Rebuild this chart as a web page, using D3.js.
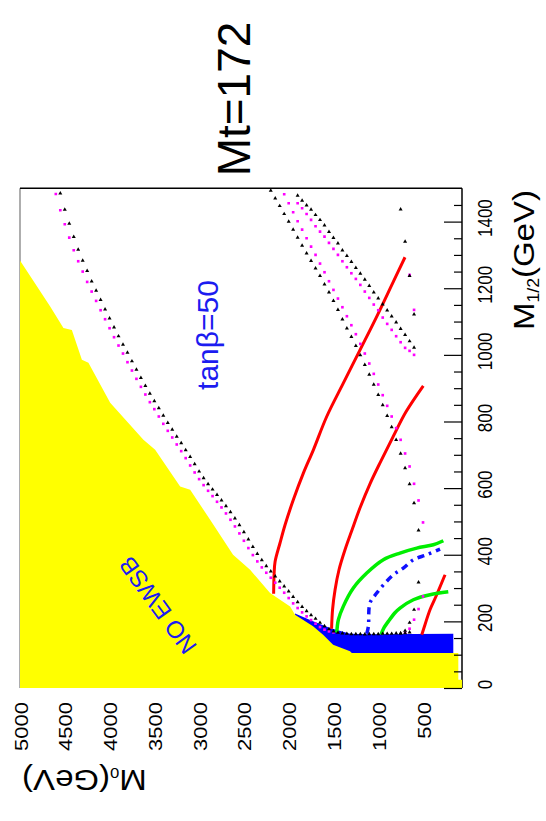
<!DOCTYPE html>
<html>
<head>
<meta charset="utf-8">
<script src="https://cdn.jsdelivr.net/npm/d3@7"></script>
<style>
  body { margin: 0; background: #fff; }
  svg { display: block; }
  text { font-family: "Liberation Sans", Arial, Helvetica, sans-serif; }
</style>
</head>
<body>
<svg id="chart" width="546" height="821"></svg>
<script>
// ---- tick values ----
const m12MajorTicks = [0, 200, 400, 600, 800, 1000, 1200, 1400];
const m0Ticks = [500, 1000, 1500, 2000, 2500, 3000, 3500, 4000, 4500, 5000];

// ---- excluded regions, [M0, M1/2] in GeV ----
// no electroweak symmetry breaking (upper-left) plus the low-M1/2 strip
const noEwsbEdge = [
  [5000,1283],[4663,1145],[4515,1081],[4421,1075],[4309,985],[4236,976],[3993,856],
  [3622,745],[3491,715],[3212,605],[3100,595],[2877,505],[2621,400],[2431,355],
  [2208,285],[1984,245],[1929,220],[1728,185],[1616,160],[1504,130],[1315,110],
  [1296,105],[106,105],[106,25],[65,25],[65,0]
];
// charged LSP wedge
const lspEdge = [
  [1929,224],[1728,200],[1538,180],[1315,163],[1092,161],[600,162],[162,163],
  [162,105],[1296,105],[1929,150]
];

// ---- solid contours ----
const redLong = [[2168,283],[2163,340],[2152,379],[2096,436],[2040,490],[1948,565],
  [1836,645],[1724,715],[1575,815],[1390,915],[1203,1015],[1017,1115],[831,1220],[701,1293]];
const redMid = [[1521,178],[1510,235],[1482,295],[1438,355],[1371,415],[1292,475],
  [1203,541],[1092,613],[969,682],[835,754],[690,829],[497,907]];
const redShort = [[514,160],[478,190],[422,235],[347,280],[254,340]];
const greenUpper = [[1463,166],[1445,205],[1390,245],[1278,300],[1128,345],[943,385],
  [757,405],[570,420],[385,430],[273,442]];
const greenLower = [[969,160],[935,181],[887,200],[813,226],[757,240],[608,265],
  [422,280],[218,289]];
const blueDashDot = [[1128,163],[1110,185],[1092,255],[1017,285],[924,315],[831,340],
  [720,360],[608,385],[459,400],[310,417]];

// ---- dotted contours (one dot per scan point) ----
const blackDotsA = [[4550,1485],[4500,1436],[4450,1394],[4400,1354],[4350,1316],[4300,1283],
  [4250,1252],[4200,1221],[4150,1193],[4100,1165],[4050,1137],[4000,1110],[3950,1083],
  [3900,1056],[3850,1031],[3800,1007],[3750,981],[3700,956],[3650,931],[3600,907],
  [3550,884],[3500,861],[3450,840],[3400,818],[3350,796],[3300,776],[3250,755],[3200,735],
  [3150,714],[3100,694],[3050,672],[3000,650],[2950,630],[2900,612],[2850,596],[2800,580],
  [2750,563],[2700,546],[2650,528],[2600,509],[2550,489],[2500,468],[2450,446],[2400,424],
  [2350,403],[2300,384],[2250,366],[2200,350],[2150,335],[2100,320],[2050,305],[2000,290],
  [1950,274],[1900,258],[1850,244],[1800,231],[1750,219],[1700,208],[1650,196],[1600,186],
  [1550,177],[1500,170],[1450,166],[1400,164],[1350,163],[1300,162],[1250,162],[1200,162],
  [1150,161],[1100,162],[1050,162],[1000,162],[950,163],[900,163],[850,163],[800,164],
  [750,164],[700,165],[650,167]];
const magentaDotsA = [[4600,1483],[4550,1434],[4500,1392],[4450,1352],[4400,1314],[4350,1281],
  [4300,1250],[4250,1219],[4200,1190],[4150,1162],[4100,1134],[4050,1107],[4000,1080],
  [3950,1053],[3900,1028],[3850,1004],[3800,978],[3750,953],[3700,928],[3650,904],
  [3600,881],[3550,858],[3500,837],[3450,815],[3400,793],[3350,772],[3300,752],[3250,731],
  [3200,711],[3150,690],[3100,668],[3050,647],[3000,627],[2950,609],[2900,592],[2850,576],
  [2800,559],[2750,542],[2700,524],[2650,505],[2600,485],[2550,464],[2500,442],[2450,420],
  [2400,399],[2350,380],[2300,362],[2250,346],[2200,331],[2150,316],[2100,301],[2050,286],
  [2000,270],[1950,254],[1900,240],[1850,227],[1800,215],[1750,204],[1700,193],[1650,183],
  [1600,175],[1550,170],[1500,167]];
const blackDotsB = [[2200,1493],[2150,1470],[2100,1447],[2050,1423],[2000,1400],[1950,1376],
  [1900,1352],[1850,1328],[1800,1305],[1750,1282],[1700,1260],[1650,1237],[1600,1212],
  [1550,1188],[1500,1162],[1450,1135],[1400,1107],[1350,1080],[1300,1054],[1250,1027],
  [1200,999],[1150,970],[1100,941],[1050,911],[1000,880],[950,849],[900,817],[850,783],
  [800,745],[750,704],[700,660],[650,612],[600,555],[550,473],[550,317],[600,235],
  [650,196],[700,172],[750,164]];
const magentaDotsB = [[2050,1482],[2000,1455],[1950,1428],[1900,1401],[1850,1376],[1800,1350],
  [1750,1325],[1700,1300],[1650,1274],[1600,1248],[1550,1221],[1500,1195],[1450,1169],
  [1400,1143],[1350,1116],[1300,1089],[1250,1062],[1200,1033],[1150,1004],[1100,974],
  [1050,943],[1000,911],[950,879],[900,847],[850,815],[800,780],[750,745],[700,704],
  [650,665],[600,613],[550,563],[500,497],[500,275],[550,237],[600,205],[650,178],[700,166]];
const blackDotsC = [[1900,1478],[1850,1463],[1800,1449],[1750,1436],[1700,1420],[1650,1405],
  [1600,1389],[1550,1369],[1500,1351],[1450,1335],[1400,1314],[1350,1297],[1300,1279],
  [1250,1261],[1200,1244],[1150,1226],[1100,1207],[1050,1188],[1000,1170],[950,1152],
  [900,1134],[850,1116],[800,1098],[750,1078],[700,1060],[650,1041],[600,1022],
  [600,1122],[650,1237],[700,1340],[750,1437]];
const magentaDotsC = [[1900,1455],[1850,1440],[1800,1423],[1750,1405],[1700,1386],[1650,1370],
  [1600,1355],[1550,1336],[1500,1318],[1450,1300],[1400,1281],[1350,1263],[1300,1245],
  [1250,1228],[1200,1210],[1150,1190],[1100,1171],[1050,1151],[1000,1134],[950,1112],
  [900,1093],[850,1075],[800,1056],[750,1038],[700,1021],[650,1012],[600,1000],
  [600,1135],[650,1240]];

// ---- drawing ----
const svg = d3.select("#chart");
const FONT = '"Liberation Sans", Arial, Helvetica, sans-serif';

// the plane is drawn turned a quarter turn: M0 runs right-to-left, M1/2 bottom-to-top
const x = d3.scaleLinear().domain([0, 5000]).range([467.8, 20]);
const y = d3.scaleLinear().domain([0, 1500]).range([688, 188.3]);
const frameL = 20, frameR = 462, frameT = y(1500), frameB = y(0);

svg.append("defs").append("clipPath").attr("id", "plot")
  .append("rect").attr("x", frameL).attr("y", frameT)
  .attr("width", frameR - frameL).attr("height", frameB - frameT);

// frame
svg.append("line").attr("x1", frameL).attr("x2", frameL).attr("y1", frameT).attr("y2", frameB)
  .attr("stroke", "#777").attr("stroke-width", 1.2);
svg.append("line").attr("x1", frameL).attr("x2", frameR).attr("y1", frameT).attr("y2", frameT)
  .attr("stroke", "#000").attr("stroke-width", 1.5);
svg.append("line").attr("x1", frameR).attr("x2", frameR).attr("y1", frameT).attr("y2", frameB)
  .attr("stroke", "#000").attr("stroke-width", 1.5);

const plot = svg.append("g").attr("clip-path", "url(#plot)");
const area = d3.line().x(d => x(d[0])).y(d => y(d[1]));

plot.append("path").attr("d", area(lspEdge) + "Z").attr("fill", "#0000ff");
plot.append("path").attr("d", area(noEwsbEdge.concat([[5000, 0]])) + "Z").attr("fill", "#ffff00");

const curve = d3.line().x(d => x(d[0])).y(d => y(d[1])).curve(d3.curveCatmullRom.alpha(0.5));
[redLong, redMid, redShort].forEach(c =>
  plot.append("path").attr("d", curve(c)).attr("fill", "none").attr("stroke", "#ff0000").attr("stroke-width", 3));
[greenUpper, greenLower].forEach(c =>
  plot.append("path").attr("d", curve(c)).attr("fill", "none").attr("stroke", "#00ee00").attr("stroke-width", 3.5));
plot.append("path").attr("d", curve(blueDashDot)).attr("fill", "none").attr("stroke", "#1010ff")
  .attr("stroke-width", 3.5).attr("stroke-dasharray", "7,5,2.5,5");

const tri = d3.symbol().type(d3.symbolTriangle).size(7);
const sq = d3.symbol().type(d3.symbolSquare).size(7);
[magentaDotsA, magentaDotsB, magentaDotsC].forEach(s =>
  plot.append("g").selectAll("path").data(s).join("path")
    .attr("d", sq).attr("transform", d => `translate(${x(d[0])},${y(d[1])})`).attr("fill", "#ff00ff"));
[blackDotsA, blackDotsB, blackDotsC].forEach(s =>
  plot.append("g").selectAll("path").data(s).join("path")
    .attr("d", tri).attr("transform", d => `translate(${x(d[0])},${y(d[1])})`).attr("fill", "#000"));

// M1/2 axis on the right edge, ticks pointing inward
const gMinor = svg.append("g").attr("transform", `translate(${frameR},0)`)
  .call(d3.axisRight(y).tickValues(d3.range(50, 1500, 50).filter(v => v % 200 !== 0))
    .tickSizeInner(-8).tickSizeOuter(0).tickFormat(""));
const gMajor = svg.append("g").attr("transform", `translate(${frameR},0)`)
  .call(d3.axisRight(y).tickValues(m12MajorTicks).tickSizeInner(-18).tickSizeOuter(0)
    .tickFormat(d3.format("d")));
[gMinor, gMajor].forEach(g => {
  g.select(".domain").remove();
  g.selectAll("line").attr("stroke", "#000").attr("stroke-width", 1.2);
});
gMajor.attr("font-family", FONT).attr("font-size", 17);
gMajor.selectAll("text").attr("x", null).attr("dy", null).attr("fill", "#000")
  .attr("text-anchor", "middle")
  .attr("transform", "translate(29.7,-4) scale(1.23,1) rotate(-90)");

// M0 axis along the bottom, labels only
const gM0 = svg.append("g").attr("transform", `translate(0,${frameB})`)
  .call(d3.axisBottom(x).tickValues(m0Ticks).tickSize(0).tickFormat(d3.format("d")));
gM0.select(".domain").remove();
gM0.attr("font-family", FONT).attr("font-size", 22);
gM0.selectAll("text").attr("y", null).attr("dy", null).attr("fill", "#000")
  .attr("text-anchor", "end")
  .attr("transform", "translate(7,14) scale(0.85,1) rotate(-90)");

// axis titles
const t12 = svg.append("text").attr("transform", "translate(534,330) scale(1,1.1) rotate(-90)")
  .attr("font-size", 30).attr("fill", "#000");
t12.append("tspan").text("M");
t12.append("tspan").attr("font-size", 16).attr("dy", 5).text("1/2");
t12.append("tspan").attr("dy", -5).text("(GeV)");

const t0 = svg.append("text").attr("transform", "translate(146.7,770) scale(1.1,1) rotate(180)")
  .attr("font-size", 30).attr("fill", "#000");
t0.append("tspan").text("M");
t0.append("tspan").attr("font-size", 15).attr("dy", 2).text("0");
t0.append("tspan").attr("dy", -2).text("(GeV)");

// annotations
svg.append("text").attr("transform", "translate(250,99) rotate(-90)")
  .attr("text-anchor", "middle").attr("font-size", 46).attr("fill", "#000").text("Mt=172");
svg.append("text").attr("transform", "translate(218,335) rotate(-90)")
  .attr("text-anchor", "middle").attr("font-size", 30).attr("fill", "#1c1cf0").text("tanβ=50");
svg.append("text").attr("transform", "translate(157.7,605.3) rotate(-126)")
  .attr("text-anchor", "middle").attr("dy", "0.35em").attr("font-size", 24).attr("fill", "#1c1cf0")
  .text("NO EWSB");
</script>
</body>
</html>
